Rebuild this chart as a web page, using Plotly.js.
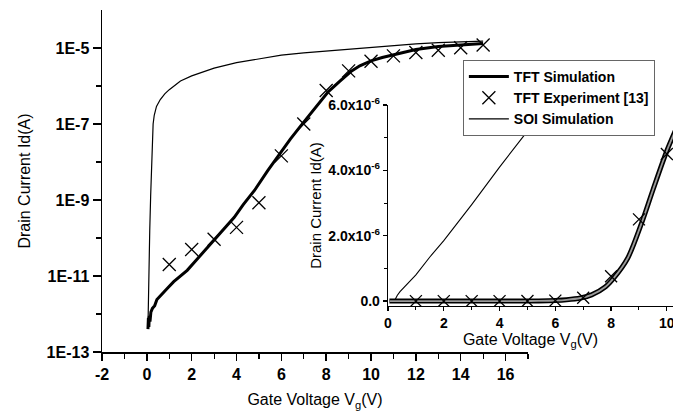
<!DOCTYPE html>
<html>
<head>
<meta charset="utf-8">
<script src="https://cdn.plot.ly/plotly-3.0.1.min.js"></script>
<style>html,body{margin:0;padding:0;background:#fff;}#chart{width:673px;height:420px;}</style>
</head>
<body>
<div id="chart"></div>
<script>
// TFT simulation (gate voltage V, drain current A)
const tftSimV = [0.05, 0.07, 0.09, 0.11, 0.14, 0.18, 0.25, 0.35, 0.45, 0.6, 0.8, 0.95, 1.2, 1.5, 1.8, 2.2, 2.6, 3.0, 3.4, 3.9, 4.3, 4.8, 5.4, 6.0, 6.4, 6.9, 7.3, 7.8, 8.1, 8.6, 9.1, 9.5, 10.0, 10.5, 11.0, 12.0, 13.0, 14.0, 15.0];
const tftSimI = [4.0e-13, 7.9e-13, 4.5e-13, 8.9e-13, 6.3e-13, 1.12e-12, 1.41e-12, 1.66e-12, 2.4e-12, 3.0e-12, 4.2e-12, 5.0e-12, 7.1e-12, 1.0e-11, 1.41e-11, 2.6e-11, 4.8e-11, 8.7e-11, 1.58e-10, 3.5e-10, 7.6e-10, 1.78e-9, 6.0e-9, 1.86e-8, 4.0e-8, 9.5e-8, 1.9e-7, 4.4e-7, 7.1e-7, 1.32e-6, 2.4e-6, 3.4e-6, 4.6e-6, 5.6e-6, 6.6e-6, 9.1e-6, 1.1e-5, 1.23e-5, 1.32e-5];

// TFT experiment [13]
const expV = [1, 2, 3, 4, 5, 6, 7, 8, 9, 10, 11, 12, 13, 14, 15];
const expI = [2.0e-11, 5.0e-11, 9.3e-11, 1.9e-10, 8.5e-10, 1.45e-8, 1.0e-7, 7.6e-7, 2.5e-6, 4.5e-6, 6.2e-6, 7.6e-6, 8.7e-6, 1.02e-5, 1.2e-5];

// SOI simulation
const soiV = [0.05, 0.07, 0.09, 0.11, 0.13, 0.17, 0.21, 0.25, 0.28, 0.33, 0.43, 0.6, 0.8, 1.0, 1.5, 2.0, 3.0, 4.0, 5.0, 6.0, 7.0, 8.0, 9.0, 10.0, 11.0, 12.0, 13.0, 14.0, 15.0];
const soiI = [4.5e-13, 3.2e-12, 1.6e-11, 6.3e-11, 1.6e-10, 1.26e-9, 8.9e-9, 4.0e-8, 1.0e-7, 1.7e-7, 2.9e-7, 4.4e-7, 6.2e-7, 8.0e-7, 1.35e-6, 1.85e-6, 2.95e-6, 4.1e-6, 5.2e-6, 6.5e-6, 7.4e-6, 8.3e-6, 9.3e-6, 1.05e-5, 1.17e-5, 1.29e-5, 1.38e-5, 1.45e-5, 1.51e-5];

// Tick labels
const mainXTickVals = [-2, 0, 2, 4, 6, 8, 10, 12, 14, 16];
const mainXTickText = ["-2", "0", "2", "4", "6", "8", "10", "12", "14", "16"];
const mainYTickVals = [1e-13, 1e-11, 1e-9, 1e-7, 1e-5];
const mainYTickText = ["1E-13", "1E-11", "1E-9", "1E-7", "1E-5"];
const mainYMinorVals = [1e-12, 1e-10, 1e-8, 1e-6];
const insetXTickVals = [0, 2, 4, 6, 8, 10];
const insetXTickText = ["0", "2", "4", "6", "8", "10"];
const insetYTickVals = [0, 2e-6, 4e-6, 6e-6];
const insetYTickText = ["0.0", "2.0x10<sup>-6</sup>", "4.0x10<sup>-6</sup>", "6.0x10<sup>-6</sup>"];
const insetYMinorVals = [1e-6, 3e-6, 5e-6];

const FONT = "Liberation Sans, Arial, sans-serif";
const bold = (s) => ({family: FONT, size: s, color: "#000", weight: 700});
const reg = (s) => ({family: FONT, size: s, color: "#000"});
const b = (arr) => arr.map(t => "<b>" + t + "</b>");

const traces = [
  {x: tftSimV, y: tftSimI, xaxis: "x", yaxis: "y", mode: "lines", name: "TFT Simulation",
   line: {color: "#000", width: 3}},
  {x: expV, y: expI, xaxis: "x", yaxis: "y", mode: "markers", name: "TFT Experiment [13]",
   marker: {symbol: "x-thin-open", size: 13, color: "#000", line: {color: "#000", width: 1.3}}},
  {x: soiV, y: soiI, xaxis: "x", yaxis: "y", mode: "lines", name: "SOI Simulation",
   line: {color: "#000", width: 1.2}},
  // inset (linear)
  {x: soiV, y: soiI, xaxis: "x2", yaxis: "y2", mode: "lines", showlegend: false,
   line: {color: "#000", width: 1.1}},
  {x: tftSimV, y: tftSimI, xaxis: "x2", yaxis: "y2", mode: "lines", showlegend: false,
   line: {color: "#000", width: 5, shape: "spline", smoothing: 0.8}},
  {x: tftSimV, y: tftSimI, xaxis: "x2", yaxis: "y2", mode: "lines", showlegend: false,
   line: {color: "#9a9a9a", width: 1.8, shape: "spline", smoothing: 0.8}},
  {x: expV, y: expI, xaxis: "x2", yaxis: "y2", mode: "markers", showlegend: false,
   marker: {symbol: "x-thin-open", size: 12, color: "#000", line: {color: "#000", width: 1.3}}}
];

const layout = {
  width: 673, height: 420,
  margin: {l: 102, r: 0, t: 10, b: 68},
  paper_bgcolor: "#fff", plot_bgcolor: "rgba(0,0,0,0)",
  showlegend: true,
  legend: {x: 0.632, y: 0.854, xanchor: "left", yanchor: "top",
    bgcolor: "#fff", bordercolor: "#666", borderwidth: 1,
    font: bold(14), itemwidth: 40, tracegroupgap: 0},
  xaxis: {domain: [0, 0.746], range: [-2, 17], anchor: "y",
    showgrid: false, zeroline: false, showline: true, linecolor: "#000", linewidth: 1.5,
    ticks: "outside", ticklen: 7, tickwidth: 1.5, tickcolor: "#000",
    tickmode: "array", tickvals: mainXTickVals, ticktext: b(mainXTickText), tickfont: bold(16),
    minor: {ticks: "outside", ticklen: 5, tickwidth: 1.2, tickcolor: "#000", dtick: 1, tick0: -2, showgrid: false},
    title: {text: "Gate Voltage V<sub>g</sub>(V)", font: reg(16), standoff: 12}},
  yaxis: {domain: [0, 1], type: "log", range: [-13, -4], anchor: "x",
    showgrid: false, zeroline: false, showline: true, linecolor: "#000", linewidth: 1.5,
    ticks: "outside", ticklen: 8, tickwidth: 1.5, tickcolor: "#000",
    tickmode: "array", tickvals: mainYTickVals, ticktext: b(mainYTickText), tickfont: bold(16),
    minor: {ticks: "outside", ticklen: 5, tickwidth: 1.2, tickcolor: "#000", tickmode: "array", tickvals: mainYMinorVals, showgrid: false},
    title: {text: "Drain Current Id(A)", font: reg(16), standoff: 12}},
  xaxis2: {domain: [0.5009, 1], range: [0, 10.22], anchor: "y2",
    showgrid: false, zeroline: false, showline: true, linecolor: "#000", linewidth: 1.3,
    ticks: "outside", ticklen: 4, tickwidth: 1.2, tickcolor: "#000",
    tickmode: "array", tickvals: insetXTickVals, ticktext: b(insetXTickText), tickfont: bold(14),
    ticklabeloverflow: "allow",
    minor: {ticks: "outside", ticklen: 3, tickwidth: 1, tickcolor: "#000", dtick: 1, tick0: 0, showgrid: false},
    title: {text: "Gate Voltage V<sub>g</sub>(V)", font: reg(16), standoff: 1}},
  yaxis2: {domain: [0.1345, 0.7222], range: [-0.15e-6, 6.0e-6], anchor: "x2",
    showgrid: false, zeroline: false, showline: true, linecolor: "#000", linewidth: 1.3,
    ticks: "outside", ticklen: 4, tickwidth: 1.2, tickcolor: "#000",
    tickmode: "array", tickvals: insetYTickVals, ticktext: b(insetYTickText), tickfont: bold(14),
    minor: {ticks: "outside", ticklen: 3, tickwidth: 1, tickcolor: "#000", tickmode: "array", tickvals: insetYMinorVals, showgrid: false},
    title: {text: "Drain Current Id(A)", font: reg(15), standoff: 3}}
};

Plotly.newPlot("chart", traces, layout, {displayModeBar: false, staticPlot: true});
</script>
</body>
</html>
